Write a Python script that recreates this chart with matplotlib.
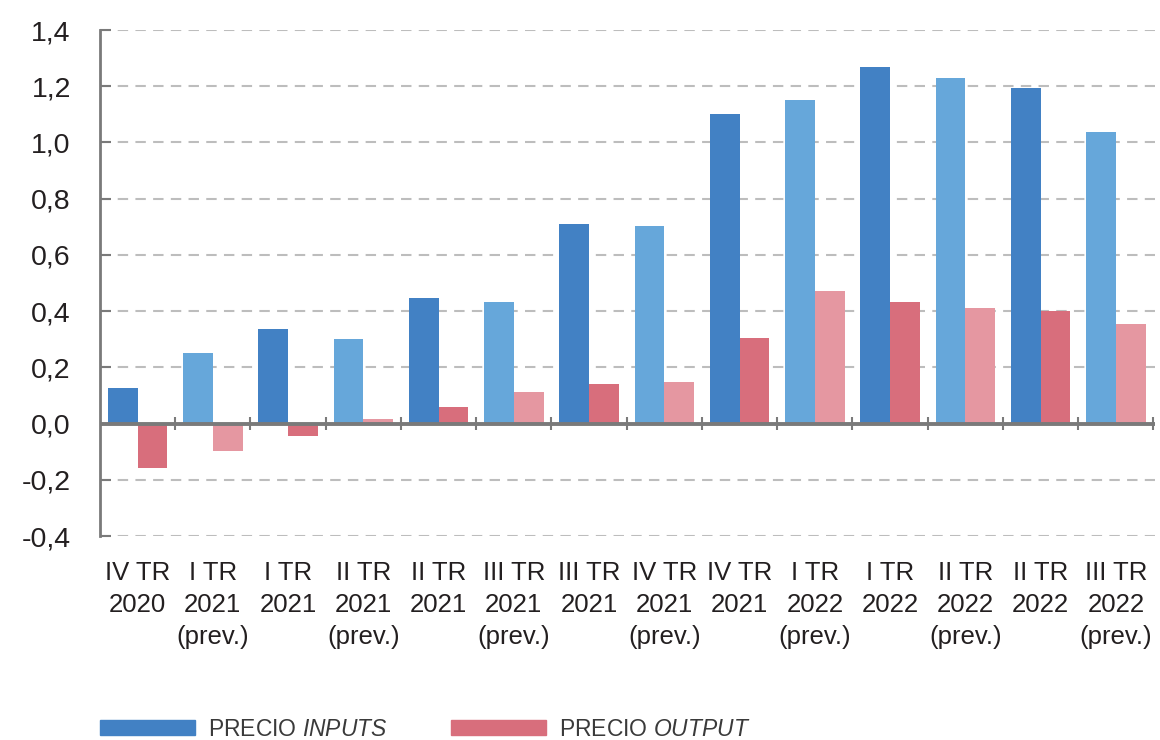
import matplotlib
matplotlib.use("Agg")
import matplotlib.pyplot as plt
from matplotlib import font_manager
from matplotlib.patches import Patch
import numpy as np

categories = ["IV TR\n2020", "I TR\n2021\n(prev.)", "I TR\n2021", "II TR\n2021\n(prev.)",
              "II TR\n2021", "III TR\n2021\n(prev.)", "III TR\n2021", "IV TR\n2021\n(prev.)",
              "IV TR\n2021", "I TR\n2022\n(prev.)", "I TR\n2022", "II TR\n2022\n(prev.)",
              "II TR\n2022", "III TR\n2022\n(prev.)"]
precio_inputs = [0.127, 0.25, 0.338, 0.30, 0.448, 0.434, 0.711, 0.704,
                 1.10, 1.152, 1.267, 1.231, 1.195, 1.036]
precio_output = [-0.157, -0.099, -0.043, 0.015, 0.06, 0.114, 0.139, 0.149,
                 0.305, 0.47, 0.432, 0.412, 0.402, 0.354]
is_prev = [False, True, False, True, False, True, False, True,
           False, True, False, True, False, True]
y_ticks = [-0.4, -0.2, 0.0, 0.2, 0.4, 0.6, 0.8, 1.0, 1.2, 1.4]
legend_labels = ["PRECIO $\\it{INPUTS}$", "PRECIO $\\it{OUTPUT}$"]

installed = {f.name for f in font_manager.fontManager.ttflist}
main_font = "Liberation Sans" if "Liberation Sans" in installed else "DejaVu Sans"
narrow_font = "Liberation Sans Narrow" if "Liberation Sans Narrow" in installed else main_font
plt.rcParams['font.family'] = [main_font, 'DejaVu Sans']
plt.rcParams['mathtext.fontset'] = 'custom'
plt.rcParams['mathtext.rm'] = narrow_font
plt.rcParams['mathtext.it'] = narrow_font + ':italic'

c_in_dark, c_in_light = "#4281C4", "#66A7DA"
c_out_dark, c_out_light = "#D86E7C", "#E597A1"
txt = "#231F20"
axis_gray = "#7A7A7A"

fig = plt.figure(figsize=(11.6, 7.4), dpi=100)
ax = fig.add_axes([100/1160, 1-536/740, 1055/1160, (536-30)/740])

x = np.arange(len(categories))
w = 0.395
in_colors = [c_in_light if p else c_in_dark for p in is_prev]
out_colors = [c_out_light if p else c_out_dark for p in is_prev]
ax.bar(x - w/2, precio_inputs, width=w, color=in_colors, zorder=3)
ax.bar(x + w/2, precio_output, width=w, color=out_colors, zorder=3)

ax.set_ylim(-0.4, 1.4)
ax.set_xlim(-0.5, 13.52)
ax.set_yticks(y_ticks)
ax.set_yticklabels([f"{v:.1f}".replace(".", ",") for v in y_ticks], fontsize=20.5, color=txt)
ax.tick_params(axis='y', direction='in', length=8, width=1.5, color=axis_gray, pad=21)
ax.set_xticks(x)
ax.set_xticklabels(categories, fontsize=18.5, color=txt, linespacing=1.42)
ax.tick_params(axis='x', length=0, pad=18)

ax.yaxis.grid(True, linestyle=(0, (5, 3.5)), color="#BDBDBD", linewidth=1.5, zorder=0)
for s in ["top", "right", "bottom"]:
    ax.spines[s].set_visible(False)
ax.spines["left"].set_color(axis_gray)
ax.spines["left"].set_linewidth(2)

ax.axhline(0, color=axis_gray, linewidth=2.8, zorder=4)
ax.vlines(np.arange(len(categories)) + 0.5, -0.022, 0.022, color=axis_gray, linewidth=1.5, zorder=4)

handles = [Patch(color=c_in_dark), Patch(color=c_out_dark)]
leg = fig.legend(handles, legend_labels, loc="center left", bbox_to_anchor=(100/1160, 1-729/740),
                 ncol=2, frameon=False, fontsize=16.5, handlelength=4.15, handleheight=0.65,
                 handletextpad=0.57, columnspacing=2.75, borderpad=0, borderaxespad=0,
                 labelcolor="#3A3A3A")

fig.savefig("out.png", dpi=100)
